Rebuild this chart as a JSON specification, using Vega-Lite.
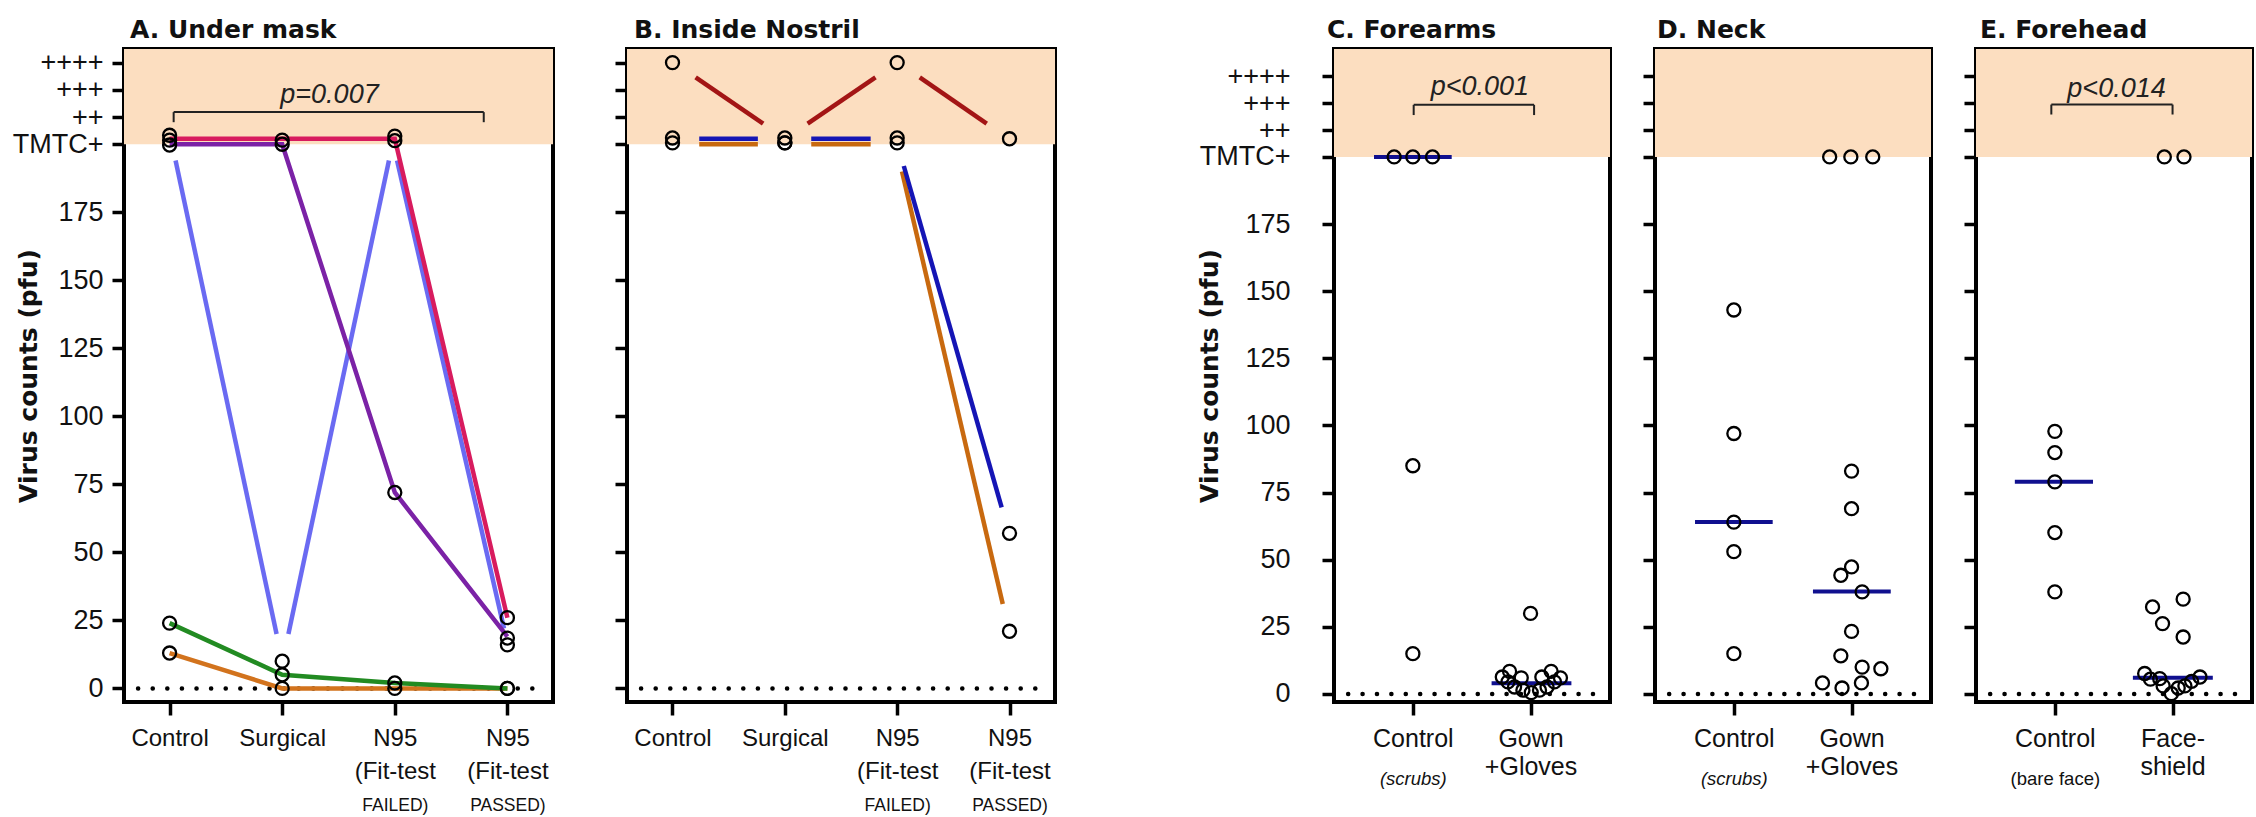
{
  "$schema": "https://vega.github.io/schema/vega-lite/v6.json",
  "padding": {"left": 10, "top": 15, "right": 0, "bottom": 0},
  "spacing": 138,
  "config": {
    "font": "Liberation Sans",
    "view": {"stroke": "#000", "strokeWidth": 4},
    "axis": {"domain": false, "grid": false, "tickColor": "#000", "tickWidth": 3.5, "tickSize": 12, "labelColor": "#111", "labelFont": "Liberation Sans", "titleFont": "DejaVu Sans", "titleColor": "#111", "labelOverlap": false, "labelFlush": false, "labelBound": false},
    "title": {"anchor": "start", "frame": "group", "fontSize": 25, "fontWeight": "bold", "color": "#111", "offset": 6, "font": "DejaVu Sans"}
  },
  "hconcat": [
    {
      "spacing": 56,
      "resolve": {"scale": {"color": "independent"}},
      "hconcat": [
        {
          "width": 429, "height": 653,
          "title": {"text": "A.  Under mask", "dx": 6},
          "resolve": {"axis": {"x": "independent", "y": "independent"}},
          "layer": [
            {
              "data": {"values": [{"x": 0.595, "x2": 4.405, "v": 200, "v2": 235}]},
              "mark": {"type": "rect", "fill": "#fcdec0"},
              "encoding": {
                "x": {"field": "x", "type": "quantitative", "scale": {"domain": [0.595, 4.405], "nice": false, "zero": false},
                  "axis": {"orient": "bottom", "values": [1, 2, 3, 4], "labelExpr": "datum.value == 1 ? 'Control' : datum.value == 2 ? 'Surgical' : ['N95', '(Fit-test']", "labelFontSize": 24, "labelLineHeight": 33, "labelPadding": 11, "tickSize": 13, "title": null}},
                "x2": {"field": "x2"},
                "y": {"field": "v", "type": "quantitative", "scale": {"domain": [-5, 235], "nice": false, "zero": false},
                  "axis": {"orient": "left", "values": [0, 25, 50, 75, 100, 125, 150, 175, 200, 210, 220, 230], "format": "d", "labelExpr": "datum.value == 200 ? 'TMTC+' : datum.value == 210 ? '++' : datum.value == 220 ? '+++' : datum.value == 230 ? '++++' : datum.label", "labelFontSize": 27, "labelPadding": 9, "title": "Virus counts (pfu)", "titleFontSize": 25, "titleFontWeight": "bold", "titlePadding": -29}},
                "y2": {"field": "v2"}
              }
            },
            {
              "data": {"values": [{"x": 0.72, "x2": 4.3, "v": 0}]},
              "mark": {"type": "rule", "strokeDash": [0.1, 14.5], "strokeCap": "round", "strokeWidth": 4.5, "color": "#000"},
              "encoding": {
                "x": {"field": "x", "type": "quantitative", "axis": {"orient": "bottom", "values": [3, 4], "labelExpr": "datum.value == 3 ? 'FAILED)' : 'PASSED)'", "labelFontSize": 17.5, "labelPadding": 81, "tickSize": 13, "tickOpacity": 0, "title": null}},
                "x2": {"field": "x2"},
                "y": {"field": "v", "type": "quantitative", "axis": null}
              }
            },
            {
              "data": {"values": [
                {"p": "orange", "s": "o", "x": 1, "v": 13}, {"p": "orange", "s": "o", "x": 2, "v": 0}, {"p": "orange", "s": "o", "x": 3, "v": 0}, {"p": "orange", "s": "o", "x": 4, "v": 0},
                {"p": "green", "s": "g", "x": 1, "v": 24}, {"p": "green", "s": "g", "x": 2, "v": 5}, {"p": "green", "s": "g", "x": 3, "v": 2}, {"p": "green", "s": "g", "x": 4, "v": 0},
                {"p": "blue", "s": "b1", "x": 1.053, "v": 194}, {"p": "blue", "s": "b1", "x": 1.95, "v": 20},
                {"p": "blue", "s": "b2", "x": 2.055, "v": 20}, {"p": "blue", "s": "b2", "x": 2.948, "v": 194},
                {"p": "blue", "s": "b3", "x": 3.02, "v": 194}, {"p": "blue", "s": "b3", "x": 3.97, "v": 22},
                {"p": "purple", "s": "pu", "x": 1, "v": 200}, {"p": "purple", "s": "pu", "x": 2, "v": 200}, {"p": "purple", "s": "pu", "x": 3, "v": 72}, {"p": "purple", "s": "pu", "x": 4, "v": 19},
                {"p": "crimson", "s": "c", "x": 1, "v": 202}, {"p": "crimson", "s": "c", "x": 2, "v": 202}, {"p": "crimson", "s": "c", "x": 3, "v": 202}, {"p": "crimson", "s": "c", "x": 4, "v": 26}
              ]},
              "mark": {"type": "line", "strokeWidth": 4.5},
              "encoding": {
                "x": {"field": "x", "type": "quantitative", "axis": null},
                "y": {"field": "v", "type": "quantitative", "axis": null},
                "color": {"field": "p", "type": "nominal", "scale": {"domain": ["orange", "green", "blue", "purple", "crimson"], "range": ["#d2731d", "#228b22", "#6a6af2", "#7b22a6", "#d81b5e"]}, "legend": null},
                "detail": {"field": "s"}
              }
            },
            {
              "data": {"values": [{"x": 1.036, "x2": 3.79, "v": 211.8, "v2": 211.8}, {"x": 1.036, "x2": 1.036, "v": 208.1, "v2": 211.8}, {"x": 3.79, "x2": 3.79, "v": 208.1, "v2": 211.8}]},
              "mark": {"type": "rule", "strokeWidth": 2, "color": "#222"},
              "encoding": {
                "x": {"field": "x", "type": "quantitative", "axis": null}, "x2": {"field": "x2"},
                "y": {"field": "v", "type": "quantitative", "axis": null}, "y2": {"field": "v2"}
              }
            },
            {
              "data": {"values": [{"x": 2.42, "v": 218, "t": "p=0.007"}]},
              "mark": {"type": "text", "fontSize": 27, "fontStyle": "italic", "color": "#222", "baseline": "middle"},
              "encoding": {
                "x": {"field": "x", "type": "quantitative", "axis": null},
                "y": {"field": "v", "type": "quantitative", "axis": null},
                "text": {"field": "t"}
              }
            },
            {
              "data": {"values": [
                {"x": 1, "v": 203.3}, {"x": 1, "v": 201.5}, {"x": 1, "v": 199.7}, {"x": 1, "v": 24}, {"x": 1, "v": 13},
                {"x": 2, "v": 201.5}, {"x": 2, "v": 200}, {"x": 2, "v": 10}, {"x": 2, "v": 5}, {"x": 2, "v": 0},
                {"x": 3, "v": 203}, {"x": 3, "v": 201.3}, {"x": 3, "v": 72}, {"x": 3, "v": 2}, {"x": 3, "v": 0},
                {"x": 4, "v": 26}, {"x": 4, "v": 18.5}, {"x": 4, "v": 16}, {"x": 4, "v": 0}, {"x": 4, "v": 0}
              ]},
              "mark": {"type": "point", "shape": "circle", "filled": false, "stroke": "#000", "strokeWidth": 2.3, "size": 170, "opacity": 1},
              "encoding": {
                "x": {"field": "x", "type": "quantitative", "axis": null},
                "y": {"field": "v", "type": "quantitative", "axis": null}
              }
            }
          ]
        },
        {
          "width": 428, "height": 653,
          "title": {"text": "B.  Inside Nostril", "dx": 7},
          "resolve": {"axis": {"x": "independent", "y": "independent"}},
          "layer": [
            {
              "data": {"values": [{"x": 0.595, "x2": 4.405, "v": 200, "v2": 235}]},
              "mark": {"type": "rect", "fill": "#fcdec0"},
              "encoding": {
                "x": {"field": "x", "type": "quantitative", "scale": {"domain": [0.595, 4.405], "nice": false, "zero": false},
                  "axis": {"orient": "bottom", "values": [1, 2, 3, 4], "labelExpr": "datum.value == 1 ? 'Control' : datum.value == 2 ? 'Surgical' : ['N95', '(Fit-test']", "labelFontSize": 24, "labelLineHeight": 33, "labelPadding": 11, "tickSize": 13, "title": null}},
                "x2": {"field": "x2"},
                "y": {"field": "v", "type": "quantitative", "scale": {"domain": [-5, 235], "nice": false, "zero": false},
                  "axis": {"orient": "left", "values": [0, 25, 50, 75, 100, 125, 150, 175, 200, 210, 220, 230], "labels": false, "title": null}},
                "y2": {"field": "v2"}
              }
            },
            {
              "data": {"values": [{"x": 0.72, "x2": 4.3, "v": 0}]},
              "mark": {"type": "rule", "strokeDash": [0.1, 14.5], "strokeCap": "round", "strokeWidth": 4.5, "color": "#000"},
              "encoding": {
                "x": {"field": "x", "type": "quantitative", "axis": {"orient": "bottom", "values": [3, 4], "labelExpr": "datum.value == 3 ? 'FAILED)' : 'PASSED)'", "labelFontSize": 17.5, "labelPadding": 81, "tickSize": 13, "tickOpacity": 0, "title": null}},
                "x2": {"field": "x2"},
                "y": {"field": "v", "type": "quantitative", "axis": null}
              }
            },
            {
              "data": {"values": [
                {"p": "red", "s": "r1", "x": 1.206, "v": 224.6}, {"p": "red", "s": "r1", "x": 1.807, "v": 207.6},
                {"p": "red", "s": "r2", "x": 2.203, "v": 207.6}, {"p": "red", "s": "r2", "x": 2.807, "v": 224.6},
                {"p": "red", "s": "r3", "x": 3.201, "v": 224.6}, {"p": "red", "s": "r3", "x": 3.797, "v": 207.6},
                {"p": "orange", "s": "n1", "x": 1.238, "v": 200}, {"p": "orange", "s": "n1", "x": 1.76, "v": 200},
                {"p": "orange", "s": "n2", "x": 2.235, "v": 200}, {"p": "orange", "s": "n2", "x": 2.764, "v": 200},
                {"p": "orange", "s": "n3", "x": 3.043, "v": 190}, {"p": "orange", "s": "n3", "x": 3.94, "v": 31},
                {"p": "blue", "s": "u1", "x": 1.238, "v": 202}, {"p": "blue", "s": "u1", "x": 1.76, "v": 202},
                {"p": "blue", "s": "u2", "x": 2.235, "v": 202}, {"p": "blue", "s": "u2", "x": 2.764, "v": 202},
                {"p": "blue", "s": "u3", "x": 3.059, "v": 192}, {"p": "blue", "s": "u3", "x": 3.93, "v": 66.5}
              ]},
              "mark": {"type": "line", "strokeWidth": 4.5},
              "encoding": {
                "x": {"field": "x", "type": "quantitative", "axis": null},
                "y": {"field": "v", "type": "quantitative", "axis": null},
                "color": {"field": "p", "type": "nominal", "scale": {"domain": ["red", "orange", "blue"], "range": ["#a31515", "#c8690f", "#1515b5"]}, "legend": null},
                "detail": {"field": "s"}
              }
            },
            {
              "data": {"values": [
                {"x": 1, "v": 230}, {"x": 1, "v": 202.3}, {"x": 1, "v": 200.5},
                {"x": 2, "v": 202.3}, {"x": 2, "v": 200.5}, {"x": 2, "v": 200.5},
                {"x": 3, "v": 230}, {"x": 3, "v": 202.3}, {"x": 3, "v": 200.5},
                {"x": 4, "v": 202}, {"x": 4, "v": 57}, {"x": 4, "v": 21}
              ]},
              "mark": {"type": "point", "shape": "circle", "filled": false, "stroke": "#000", "strokeWidth": 2.3, "size": 170, "opacity": 1},
              "encoding": {
                "x": {"field": "x", "type": "quantitative", "axis": null},
                "y": {"field": "v", "type": "quantitative", "axis": null}
              }
            }
          ]
        }
      ]
    },
    {
      "spacing": 27,
      "hconcat": [
        {
          "width": 276, "height": 653,
          "title": {"text": "C.   Forearms", "dx": -7},
          "resolve": {"axis": {"x": "independent", "y": "independent"}},
          "layer": [
            {
              "data": {"values": [{"x": 0.33, "x2": 2.675, "v": 200, "v2": 240.2}]},
              "mark": {"type": "rect", "fill": "#fcdec0"},
              "encoding": {
                "x": {"field": "x", "type": "quantitative", "scale": {"domain": [0.33, 2.675], "nice": false, "zero": false},
                  "axis": {"orient": "bottom", "values": [1, 2], "labelExpr": "datum.value == 1 ? 'Control' : ['Gown', '+Gloves']", "labelFontSize": 25, "labelLineHeight": 28, "labelPadding": 11, "tickSize": 13, "title": null}},
                "x2": {"field": "x2"},
                "y": {"field": "v", "type": "quantitative", "scale": {"domain": [-3, 240.2], "nice": false, "zero": false},
                  "axis": {"orient": "left", "values": [0, 25, 50, 75, 100, 125, 150, 175, 200, 210, 220, 230], "format": "d", "labelExpr": "datum.value == 200 ? 'TMTC+' : datum.value == 210 ? '++' : datum.value == 220 ? '+++' : datum.value == 230 ? '++++' : datum.label", "labelFontSize": 27, "labelPadding": 32, "title": "Virus counts (pfu)", "titleFontSize": 25, "titleFontWeight": "bold", "titlePadding": -23}},
                "y2": {"field": "v2"}
              }
            },
            {
              "data": {"values": [{"x": 0.45, "x2": 2.58, "v": 0}]},
              "mark": {"type": "rule", "strokeDash": [0.1, 14.3], "strokeCap": "round", "strokeWidth": 4.5, "color": "#000"},
              "encoding": {
                "x": {"field": "x", "type": "quantitative", "axis": {"orient": "bottom", "values": [1], "labelExpr": "'(scrubs)'", "labelFontSize": 18.5, "labelFontStyle": "italic", "labelPadding": 54, "tickSize": 13, "tickOpacity": 0, "title": null}},
                "x2": {"field": "x2"},
                "y": {"field": "v", "type": "quantitative", "axis": null}
              }
            },
            {
              "data": {"values": [{"x": 1.007, "x2": 2.03, "v": 219.4, "v2": 219.4}, {"x": 1.007, "x2": 1.007, "v": 215.6, "v2": 219.4}, {"x": 2.03, "x2": 2.03, "v": 215.6, "v2": 219.4}]},
              "mark": {"type": "rule", "strokeWidth": 2, "color": "#222"},
              "encoding": {
                "x": {"field": "x", "type": "quantitative", "axis": null}, "x2": {"field": "x2"},
                "y": {"field": "v", "type": "quantitative", "axis": null}, "y2": {"field": "v2"}
              }
            },
            {
              "data": {"values": [{"x": 1.57, "v": 226, "t": "p<0.001"}]},
              "mark": {"type": "text", "fontSize": 27, "fontStyle": "italic", "color": "#222", "baseline": "middle"},
              "encoding": {
                "x": {"field": "x", "type": "quantitative", "axis": null},
                "y": {"field": "v", "type": "quantitative", "axis": null},
                "text": {"field": "t"}
              }
            },
            {
              "data": {"values": [{"x": 0.67, "x2": 1.33, "v": 200}, {"x": 1.669, "x2": 2.347, "v": 4}]},
              "mark": {"type": "rule", "strokeWidth": 4, "color": "#10108f"},
              "encoding": {
                "x": {"field": "x", "type": "quantitative", "axis": null}, "x2": {"field": "x2"},
                "y": {"field": "v", "type": "quantitative", "axis": null}
              }
            },
            {
              "data": {"values": [
                {"x": 0.841, "v": 200}, {"x": 1.0, "v": 200}, {"x": 1.167, "v": 200}, {"x": 1, "v": 85}, {"x": 1, "v": 15},
                {"x": 2.0, "v": 30}, {"x": 1.822, "v": 8.4}, {"x": 1.76, "v": 6.3}, {"x": 1.921, "v": 6}, {"x": 2.175, "v": 8.4}, {"x": 2.096, "v": 6.3}, {"x": 2.254, "v": 6},
                {"x": 1.864, "v": 2.6}, {"x": 1.935, "v": 1.4}, {"x": 2.006, "v": 0.5}, {"x": 2.076, "v": 1.4}, {"x": 2.14, "v": 2.6}, {"x": 2.203, "v": 4.5}, {"x": 1.808, "v": 4.5}
              ]},
              "mark": {"type": "point", "shape": "circle", "filled": false, "stroke": "#000", "strokeWidth": 2.3, "size": 170, "opacity": 1},
              "encoding": {
                "x": {"field": "x", "type": "quantitative", "axis": null},
                "y": {"field": "v", "type": "quantitative", "axis": null}
              }
            }
          ]
        },
        {
          "width": 276, "height": 653,
          "title": {"text": "D.  Neck", "dx": 2},
          "resolve": {"axis": {"x": "independent", "y": "independent"}},
          "layer": [
            {
              "data": {"values": [{"x": 0.33, "x2": 2.675, "v": 200, "v2": 240.2}]},
              "mark": {"type": "rect", "fill": "#fcdec0"},
              "encoding": {
                "x": {"field": "x", "type": "quantitative", "scale": {"domain": [0.33, 2.675], "nice": false, "zero": false},
                  "axis": {"orient": "bottom", "values": [1, 2], "labelExpr": "datum.value == 1 ? 'Control' : ['Gown', '+Gloves']", "labelFontSize": 25, "labelLineHeight": 28, "labelPadding": 11, "tickSize": 13, "title": null}},
                "x2": {"field": "x2"},
                "y": {"field": "v", "type": "quantitative", "scale": {"domain": [-3, 240.2], "nice": false, "zero": false},
                  "axis": {"orient": "left", "values": [0, 25, 50, 75, 100, 125, 150, 175, 200, 210, 220, 230], "labels": false, "title": null}},
                "y2": {"field": "v2"}
              }
            },
            {
              "data": {"values": [{"x": 0.45, "x2": 2.58, "v": 0}]},
              "mark": {"type": "rule", "strokeDash": [0.1, 14.3], "strokeCap": "round", "strokeWidth": 4.5, "color": "#000"},
              "encoding": {
                "x": {"field": "x", "type": "quantitative", "axis": {"orient": "bottom", "values": [1], "labelExpr": "'(scrubs)'", "labelFontSize": 18.5, "labelFontStyle": "italic", "labelPadding": 54, "tickSize": 13, "tickOpacity": 0, "title": null}},
                "x2": {"field": "x2"},
                "y": {"field": "v", "type": "quantitative", "axis": null}
              }
            },
            {
              "data": {"values": [{"x": 0.67, "x2": 1.33, "v": 64}, {"x": 1.672, "x2": 2.333, "v": 38.2}]},
              "mark": {"type": "rule", "strokeWidth": 4, "color": "#10108f"},
              "encoding": {
                "x": {"field": "x", "type": "quantitative", "axis": null}, "x2": {"field": "x2"},
                "y": {"field": "v", "type": "quantitative", "axis": null}
              }
            },
            {
              "data": {"values": [
                {"x": 1, "v": 143}, {"x": 1, "v": 97}, {"x": 1, "v": 64}, {"x": 1, "v": 53}, {"x": 1, "v": 15},
                {"x": 1.814, "v": 200}, {"x": 1.994, "v": 200}, {"x": 2.18, "v": 200},
                {"x": 2.0, "v": 83}, {"x": 2.0, "v": 69}, {"x": 2.0, "v": 47.3}, {"x": 1.909, "v": 44.2}, {"x": 2.09, "v": 38}, {"x": 2.0, "v": 23.3},
                {"x": 1.909, "v": 14.2}, {"x": 2.09, "v": 10}, {"x": 2.249, "v": 9.4}, {"x": 1.753, "v": 4.1}, {"x": 1.919, "v": 2.2}, {"x": 2.084, "v": 4.1}
              ]},
              "mark": {"type": "point", "shape": "circle", "filled": false, "stroke": "#000", "strokeWidth": 2.3, "size": 170, "opacity": 1},
              "encoding": {
                "x": {"field": "x", "type": "quantitative", "axis": null},
                "y": {"field": "v", "type": "quantitative", "axis": null}
              }
            }
          ]
        },
        {
          "width": 276, "height": 653,
          "title": {"text": "E.  Forehead", "dx": 4},
          "resolve": {"axis": {"x": "independent", "y": "independent"}},
          "layer": [
            {
              "data": {"values": [{"x": 0.33, "x2": 2.675, "v": 200, "v2": 240.2}]},
              "mark": {"type": "rect", "fill": "#fcdec0"},
              "encoding": {
                "x": {"field": "x", "type": "quantitative", "scale": {"domain": [0.33, 2.675], "nice": false, "zero": false},
                  "axis": {"orient": "bottom", "values": [1, 2], "labelExpr": "datum.value == 1 ? 'Control' : ['Face-', 'shield']", "labelFontSize": 25, "labelLineHeight": 28, "labelPadding": 11, "tickSize": 13, "title": null}},
                "x2": {"field": "x2"},
                "y": {"field": "v", "type": "quantitative", "scale": {"domain": [-3, 240.2], "nice": false, "zero": false},
                  "axis": {"orient": "left", "values": [0, 25, 50, 75, 100, 125, 150, 175, 200, 210, 220, 230], "labels": false, "title": null}},
                "y2": {"field": "v2"}
              }
            },
            {
              "data": {"values": [{"x": 0.45, "x2": 2.56, "v": 0}]},
              "mark": {"type": "rule", "strokeDash": [0.1, 14.3], "strokeCap": "round", "strokeWidth": 4.5, "color": "#000"},
              "encoding": {
                "x": {"field": "x", "type": "quantitative", "axis": {"orient": "bottom", "values": [1], "labelExpr": "'(bare face)'", "labelFontSize": 18.5, "labelPadding": 54, "tickSize": 13, "tickOpacity": 0, "title": null}},
                "x2": {"field": "x2"},
                "y": {"field": "v", "type": "quantitative", "axis": null}
              }
            },
            {
              "data": {"values": [{"x": 0.97, "x2": 2.0, "v": 219.5, "v2": 219.5}, {"x": 0.97, "x2": 0.97, "v": 215.8, "v2": 219.5}, {"x": 2.0, "x2": 2.0, "v": 215.8, "v2": 219.5}]},
              "mark": {"type": "rule", "strokeWidth": 2, "color": "#222"},
              "encoding": {
                "x": {"field": "x", "type": "quantitative", "axis": null}, "x2": {"field": "x2"},
                "y": {"field": "v", "type": "quantitative", "axis": null}, "y2": {"field": "v2"}
              }
            },
            {
              "data": {"values": [{"x": 1.524, "v": 225.4, "t": "p<0.014"}]},
              "mark": {"type": "text", "fontSize": 27, "fontStyle": "italic", "color": "#222", "baseline": "middle"},
              "encoding": {
                "x": {"field": "x", "type": "quantitative", "axis": null},
                "y": {"field": "v", "type": "quantitative", "axis": null},
                "text": {"field": "t"}
              }
            },
            {
              "data": {"values": [{"x": 0.66, "x2": 1.324, "v": 79}, {"x": 1.663, "x2": 2.342, "v": 6}]},
              "mark": {"type": "rule", "strokeWidth": 4, "color": "#10108f"},
              "encoding": {
                "x": {"field": "x", "type": "quantitative", "axis": null}, "x2": {"field": "x2"},
                "y": {"field": "v", "type": "quantitative", "axis": null}
              }
            },
            {
              "data": {"values": [
                {"x": 1, "v": 97.8}, {"x": 1, "v": 89.9}, {"x": 1, "v": 79}, {"x": 1, "v": 60.1}, {"x": 1, "v": 38},
                {"x": 1.93, "v": 200}, {"x": 2.097, "v": 200},
                {"x": 1.83, "v": 32.4}, {"x": 2.09, "v": 35.3}, {"x": 1.915, "v": 26.2}, {"x": 2.09, "v": 21.2},
                {"x": 1.763, "v": 7.6}, {"x": 1.812, "v": 5.5}, {"x": 1.891, "v": 5.7}, {"x": 1.92, "v": 3}, {"x": 1.99, "v": 0.1},
                {"x": 2.048, "v": 2.2}, {"x": 2.105, "v": 3}, {"x": 2.162, "v": 4.7}, {"x": 2.233, "v": 6.3}
              ]},
              "mark": {"type": "point", "shape": "circle", "filled": false, "stroke": "#000", "strokeWidth": 2.3, "size": 170, "opacity": 1},
              "encoding": {
                "x": {"field": "x", "type": "quantitative", "axis": null},
                "y": {"field": "v", "type": "quantitative", "axis": null}
              }
            }
          ]
        }
      ]
    }
  ]
}
